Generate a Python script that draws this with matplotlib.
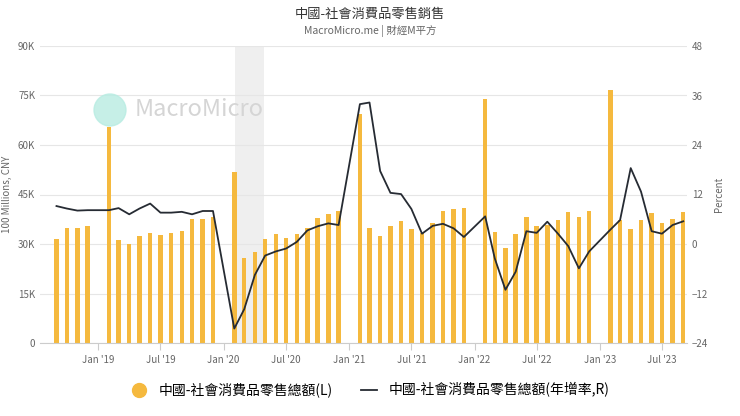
import matplotlib
matplotlib.use("Agg")
import matplotlib.pyplot as plt
import matplotlib.dates as mdates
import numpy as np
import pandas as pd
from matplotlib.ticker import FuncFormatter
from matplotlib.patches import Ellipse
from matplotlib.lines import Line2D

plt.rcParams['font.family'] = ['Noto Sans CJK TC', 'DejaVu Sans']

months = pd.date_range("2018-09-01", "2023-09-01", freq="MS")
nan = np.nan
sales = [31.4, 35.0, 34.8, 35.5,
         nan, 65.6, 31.2, 30.0, 32.4, 33.2, 32.6, 33.2, 34.0, 37.5, 37.5, 38.3,
         nan, 51.8, 25.9, 27.7, 31.4, 33.0, 31.7, 33.0, 34.8, 38.0, 39.0, 40.0,
         nan, 69.4, 35.0, 32.5, 35.5, 37.1, 34.5, 33.4, 36.5, 40.1, 40.6, 40.8,
         nan, 74.0, 33.7, 28.9, 33.1, 38.2, 35.5, 35.9, 37.2, 39.8, 38.2, 40.0,
         nan, 76.7, 37.3, 34.5, 37.3, 39.3, 36.3, 37.5, 39.6]
yoy = [9.2, 8.6, 8.1, 8.2,
       nan, 8.2, 8.7, 7.2, 8.6, 9.8, 7.6, 7.6, 7.8, 7.2, 8.0, 8.0,
       nan, -20.5, -15.8, -7.5, -2.8, -1.8, -1.1, 0.5, 3.3, 4.3, 5.0, 4.6,
       nan, 33.9, 34.3, 17.7, 12.4, 12.1, 8.5, 2.5, 4.4, 4.9, 3.8, 1.7,
       nan, 6.7, -3.5, -11.1, -6.7, 3.1, 2.7, 5.4, 2.5, -0.5, -5.9, -1.8,
       nan, 3.5, 5.8, 18.4, 12.7, 3.1, 2.5, 4.6, 5.5]
sales = np.array(sales)
yoy = np.array(yoy)

fig = plt.figure(figsize=(7.4, 4.16), dpi=100)
ax = fig.add_axes([40/740, 1-343/416, 647/740, 297/416])
ax2 = ax.twinx()

x = mdates.date2num(months)
ax.axvspan(mdates.date2num(pd.Timestamp("2020-02-04")), mdates.date2num(pd.Timestamp("2020-04-28")),
           color="#efefef", zorder=0, lw=0)
ax.bar(x, sales, width=13, color="#f5b93e", zorder=2)
mask = ~np.isnan(yoy)
ax2.plot(x[mask], yoy[mask], color="#262b33", lw=1.3, zorder=3)

ax.set_xlim(mdates.date2num(pd.Timestamp("2018-07-15")), mdates.date2num(pd.Timestamp("2023-09-12")))
ax.set_ylim(0, 90)
ax2.set_ylim(-24, 48)
ax.set_yticks(np.arange(0, 91, 15))
ax.yaxis.set_major_formatter(FuncFormatter(lambda v, p: "0" if v == 0 else f"{int(v)}K"))
ax2.set_yticks(np.arange(-24, 49, 12))
ticks = [pd.Timestamp(f"{y}-{m:02d}-01") for y in range(2019, 2024) for m in (1, 7)]
ax.set_xticks(mdates.date2num(ticks))
ax.set_xticklabels([t.strftime("%b '%y") for t in ticks])
ax.grid(axis="y", color="#e6e6e6", lw=0.8, zorder=1)
for a in (ax, ax2):
    for s in a.spines.values():
        s.set_visible(False)
    a.tick_params(colors="#666666", labelsize=7, length=0)
ax.spines["bottom"].set_visible(True)
ax.spines["bottom"].set_color("#cccccc")
ax.tick_params(axis="x", length=5, color="#cccccc")
ax.set_ylabel("100 Millions, CNY", fontsize=7, color="#666666")
ax2.set_ylabel("Percent", fontsize=7, color="#666666")

fig.text(0.5, 1-14/416, "中國-社會消費品零售銷售", ha="center", va="center", fontsize=9.5, color="#333333")
fig.text(0.5, 1-31/416, "MacroMicro.me | 財經M平方", ha="center", va="center", fontsize=7.5, color="#666666")
fig.text(135/740, 1-110/416, "MacroMicro", fontsize=17, color="#d5d5d5", va="center", zorder=0)
fig.patches.append(Ellipse((110/740, 1-110/416), 32/740, 32/416, transform=fig.transFigure,
                           color="#b8ece2", alpha=0.8))

h1 = Line2D([], [], marker="o", ls="", color="#f5b93e", markersize=10)
h2 = Line2D([], [], color="#262b33", lw=1.3)
fig.legend([h1, h2], ["中國-社會消費品零售總額(L)", "中國-社會消費品零售總額(年增率,R)"],
           loc="center", bbox_to_anchor=(0.5, 1-390/416), ncol=2, frameon=False, fontsize=10,
           handlelength=1.2, columnspacing=2)
fig.savefig("out.png", dpi=100)
